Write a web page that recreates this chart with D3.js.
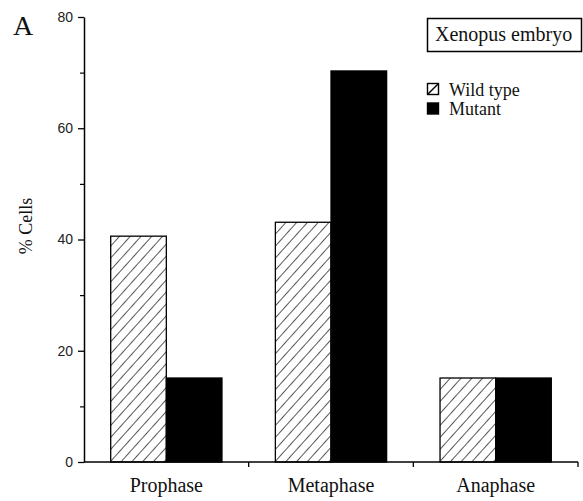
<!DOCTYPE html>
<html>
<head>
<meta charset="utf-8">
<script src="https://cdn.jsdelivr.net/npm/d3@7"></script>
<style>
  body { margin: 0; background: #fff; }
  svg { display: block; }
</style>
</head>
<body>
<svg width="583" height="501"></svg>
<script>
const categories = ["Prophase", "Metaphase", "Anaphase"];
const seriesNames = ["Wild type", "Mutant"];
const wildType = [40.6, 43.1, 15.1];
const mutant = [15.1, 70.3, 15.1];
const yTicks = [0, 20, 40, 60, 80];
const yMinorTicks = [10, 30, 50, 70];

let svg = d3.select("svg"),
    width = +svg.attr("width"),
    height = +svg.attr("height");

const margin = { top: 17, right: 5, bottom: 39, left: 84 };
const serif = "'Liberation Serif', 'Times New Roman', serif";
const sans = "'Liberation Sans', Arial, sans-serif";

// hatch for wild type bars
let defs = svg.append("defs");
let hatch = defs.append("pattern")
    .attr("id", "hatch")
    .attr("patternUnits", "userSpaceOnUse")
    .attr("width", 8)
    .attr("height", 8)
    .attr("patternTransform", "rotate(42)");
hatch.append("rect").attr("width", 8).attr("height", 8).attr("fill", "#fff");
hatch.append("line")
    .attr("x1", 0).attr("y1", 0).attr("x2", 0).attr("y2", 8)
    .attr("stroke", "#111").attr("stroke-width", 1.4);

let x0 = d3.scaleBand()
    .domain(categories)
    .range([margin.left, width - margin.right]);

let x1 = d3.scaleBand()
    .domain(seriesNames)
    .range([0, x0.bandwidth()])
    .paddingOuter(0.48);

let y = d3.scaleLinear()
    .domain([0, 80])
    .range([height - margin.bottom, margin.top]);

let rows = categories.map(function(c, i) {
    return { cat: c, values: [
        { key: "Wild type", value: wildType[i] },
        { key: "Mutant", value: mutant[i] }
    ]};
});

let g = svg.append("g").attr("class", "bars");

g.selectAll("g")
    .data(rows)
    .enter().append("g")
    .attr("transform", function(d) { return "translate(" + x0(d.cat) + ",0)"; })
    .selectAll("rect")
    .data(function(d) { return d.values; })
    .enter().append("rect")
    .attr("x", function(d) { return x1(d.key); })
    .attr("width", x1.bandwidth())
    .attr("y", function(d) { return y(d.value); })
    .attr("height", function(d) { return y(0) - y(d.value); })
    .attr("fill", function(d) { return d.key === "Mutant" ? "#000" : "url(#hatch)"; })
    .attr("stroke", "#000")
    .attr("stroke-width", 1.3);

// y axis
let yAxis = svg.append("g")
    .attr("transform", "translate(" + margin.left + ",0)")
    .call(d3.axisLeft(y).tickValues(yTicks).tickSize(6).tickPadding(5).tickSizeOuter(0));
yAxis.select(".domain").attr("stroke-width", 1.5);
yAxis.selectAll(".tick line").attr("stroke-width", 1.3);
yAxis.selectAll("text")
    .attr("font-family", sans)
    .attr("font-size", 14)
    .attr("fill", "#222");

svg.append("g")
    .attr("transform", "translate(" + margin.left + ",0)")
    .call(d3.axisLeft(y).tickValues(yMinorTicks).tickSize(4).tickFormat("").tickSizeOuter(0))
    .call(function(a) { a.select(".domain").remove(); a.selectAll("line").attr("stroke-width", 1.2); });

// x axis, ticks at category boundaries
let xEdges = categories.map(function(c) { return x0(c); }).concat([width - margin.right]);
svg.append("line")
    .attr("x1", margin.left).attr("x2", width - margin.right)
    .attr("y1", y(0)).attr("y2", y(0))
    .attr("stroke", "#000").attr("stroke-width", 1.5);
svg.append("g").selectAll("line")
    .data(xEdges.slice(1))
    .enter().append("line")
    .attr("x1", function(d) { return d; })
    .attr("x2", function(d) { return d; })
    .attr("y1", y(0)).attr("y2", y(0) + 5)
    .attr("stroke", "#000").attr("stroke-width", 1.3);

svg.append("g").selectAll("text")
    .data(categories)
    .enter().append("text")
    .attr("x", function(d) { return x0(d) + x0.bandwidth() / 2; })
    .attr("y", height - 9)
    .attr("text-anchor", "middle")
    .attr("font-family", serif)
    .attr("font-size", 20)
    .attr("fill", "#111")
    .text(function(d) { return d; });

// y label
svg.append("text")
    .attr("transform", "translate(32,226) rotate(-90)")
    .attr("text-anchor", "middle")
    .attr("font-family", serif)
    .attr("font-size", 18)
    .attr("fill", "#111")
    .text("% Cells");

// panel letter
svg.append("text")
    .attr("x", 13).attr("y", 35)
    .attr("font-family", serif)
    .attr("font-size", 28)
    .attr("fill", "#111")
    .text("A");

// title box
svg.append("rect")
    .attr("x", 427.5).attr("y", 18.5)
    .attr("width", 154).attr("height", 33)
    .attr("fill", "none").attr("stroke", "#000").attr("stroke-width", 1.5);
svg.append("text")
    .attr("x", 435).attr("y", 41)
    .attr("font-family", serif)
    .attr("font-size", 20)
    .attr("fill", "#111")
    .text("Xenopus embryo");

// legend
let legend = svg.append("g").attr("transform", "translate(427,83)");
let item = legend.selectAll("g")
    .data(seriesNames)
    .enter().append("g")
    .attr("transform", function(d, i) { return "translate(0," + (i * 19.5) + ")"; });
item.append("rect")
    .attr("x", 0.5).attr("y", 0.5)
    .attr("width", 11).attr("height", 11)
    .attr("fill", function(d) { return d === "Mutant" ? "#000" : "#fff"; })
    .attr("stroke", "#000").attr("stroke-width", 1.4);
item.filter(function(d) { return d === "Wild type"; })
    .append("line")
    .attr("x1", 1).attr("y1", 11).attr("x2", 11).attr("y2", 1)
    .attr("stroke", "#000").attr("stroke-width", 1.4);
item.append("text")
    .attr("x", 22).attr("y", 12.5)
    .attr("font-family", serif)
    .attr("font-size", 18)
    .attr("fill", "#111")
    .text(function(d) { return d; });
</script>
</body>
</html>
